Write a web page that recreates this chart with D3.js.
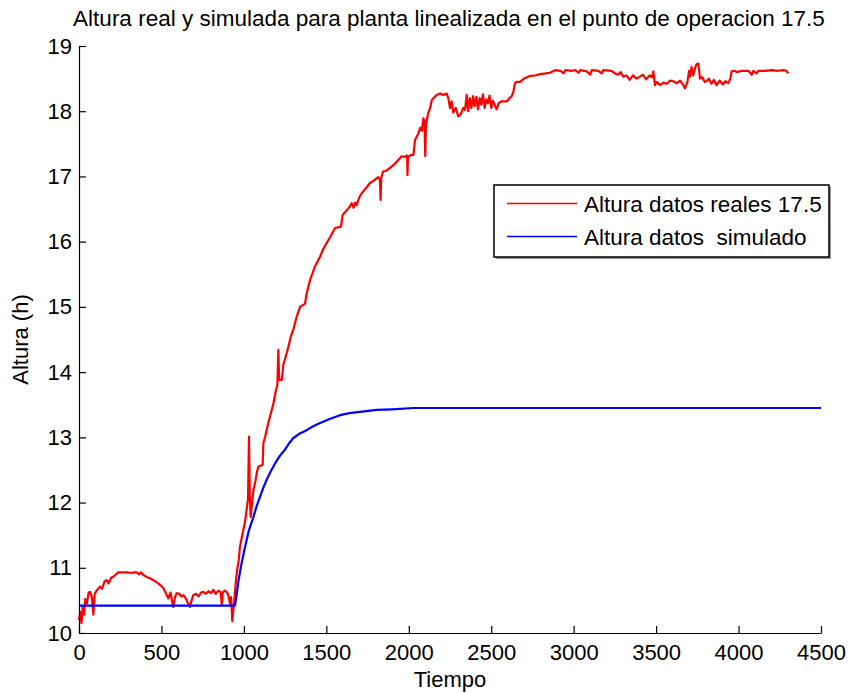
<!DOCTYPE html>
<html>
<head>
<meta charset="utf-8">
<script src="https://cdn.jsdelivr.net/npm/d3@7"></script>
<style>
  html, body { margin: 0; padding: 0; background: #fff; }
  svg { display: block; }
  text { font-family: "Liberation Sans", Arial, Helvetica, sans-serif; fill: #000; }
</style>
</head>
<body>
<svg id="chart" width="848" height="693"></svg>
<script>
// ---- data ----
const titleText = "Altura real y simulada para planta linealizada en el punto de operacion 17.5";
const xLabel = "Tiempo";
const yLabel = "Altura (h)";
const xTicks = [0, 500, 1000, 1500, 2000, 2500, 3000, 3500, 4000, 4500];
const yTicks = [10, 11, 12, 13, 14, 15, 16, 17, 18, 19];
const seriesNames = ["Altura datos reales 17.5", "Altura datos  simulado"];
const seriesColors = ["#ff0000", "#0000ff"];

const realT = [0,8,15,22,30,38,48,58,67,78,87,95,110,127,140,155,168,180,195,208,225,238,260,290,320,335,350,365,375,390,410,430,451,470,490,511,525,542,555,565,572,582,592,610,620,633,650,662,673,683,693,710,725,740,754,770,785,800,815,830,845,858,866,872,884,896,905,916,922,930,936,942,950,958,968,976,990,1007,1017,1025,1031,1036,1041,1050,1058,1070,1080,1088,1114,1118,1130,1148,1165,1179,1195,1203,1209,1213,1215,1230,1239,1255,1270,1285,1300,1320,1341,1371,1380,1401,1431,1462,1480,1502,1525,1553,1589,1599,1620,1640,1654,1665,1675,1684,1700,1714,1740,1765,1790,1815,1825,1829,1833,1845,1860,1886,1910,1935,1957,1975,1990,1992,1995,2015,2028,2038,2058,2070,2080,2088,2095,2100,2104,2118,2130,2139,2150,2169,2190,2210,2230,2240,2250,2260,2270,2285,2300,2315,2330,2341,2351,2360,2370,2380,2390,2400,2410,2420,2430,2440,2450,2460,2470,2480,2490,2500,2510,2520,2533,2545,2560,2594,2610,2624,2635,2644,2655,2675,2700,2735,2770,2796,2830,2857,2887,2920,2940,2950,2990,3010,3030,3040,3080,3100,3110,3150,3170,3180,3230,3250,3271,3285,3301,3320,3340,3360,3380,3402,3420,3440,3460,3475,3483,3493,3504,3523,3545,3565,3585,3604,3625,3645,3660,3675,3690,3700,3706,3715,3725,3736,3745,3756,3762,3766,3780,3795,3806,3820,3835,3850,3867,3885,3905,3920,3938,3950,3958,3975,3990,4020,4060,4080,4090,4110,4120,4160,4200,4240,4270,4290,4302];
const realH = [10.20,10.32,10.15,10.40,10.28,10.52,10.45,10.62,10.63,10.55,10.28,10.60,10.66,10.71,10.68,10.79,10.81,10.76,10.85,10.86,10.90,10.93,10.93,10.93,10.92,10.93,10.93,10.90,10.93,10.89,10.86,10.84,10.81,10.78,10.74,10.69,10.62,10.53,10.62,10.48,10.40,10.55,10.61,10.60,10.56,10.58,10.52,10.45,10.40,10.50,10.58,10.60,10.56,10.62,10.63,10.60,10.64,10.61,10.66,10.60,10.65,10.63,10.44,10.62,10.65,10.63,10.58,10.45,10.55,10.18,10.36,10.50,10.75,10.95,11.10,11.32,11.50,11.71,11.90,12.05,13.01,12.10,11.78,12.00,12.19,12.33,12.48,12.55,12.58,12.91,13.02,13.22,13.38,13.52,13.73,13.80,14.34,13.95,13.88,13.88,14.11,14.25,14.39,14.55,14.65,14.85,15.00,15.05,15.20,15.41,15.62,15.77,15.88,15.98,16.08,16.21,16.23,16.41,16.47,16.53,16.59,16.52,16.60,16.56,16.68,16.74,16.82,16.90,16.94,16.99,16.95,16.64,16.98,17.08,17.08,17.13,17.18,17.25,17.31,17.30,17.32,17.02,17.30,17.33,17.33,17.56,17.66,17.75,17.70,17.89,17.85,17.31,17.80,17.97,18.05,18.17,18.20,18.25,18.27,18.25,18.27,18.20,18.05,18.15,17.98,18.05,17.92,17.95,18.05,18.02,18.25,18.00,18.20,18.05,18.23,18.08,18.22,18.03,18.20,18.10,18.26,18.05,18.18,18.12,18.24,18.05,18.16,18.10,18.03,18.12,18.15,18.15,18.20,18.23,18.30,18.43,18.45,18.45,18.50,18.54,18.55,18.57,18.58,18.59,18.63,18.62,18.58,18.63,18.62,18.63,18.59,18.63,18.61,18.56,18.63,18.62,18.58,18.63,18.62,18.58,18.56,18.60,18.53,18.55,18.48,18.55,18.50,18.53,18.56,18.49,18.55,18.52,18.61,18.40,18.45,18.40,18.44,18.42,18.47,18.46,18.43,18.47,18.42,18.35,18.45,18.62,18.53,18.68,18.55,18.66,18.72,18.73,18.60,18.50,18.52,18.45,18.46,18.50,18.42,18.48,18.40,18.47,18.41,18.46,18.43,18.50,18.61,18.62,18.60,18.62,18.62,18.56,18.62,18.58,18.62,18.62,18.63,18.62,18.63,18.62,18.58];

const simT = [0,946,956,966,976,987,1007,1030,1058,1078,1098,1118,1138,1163,1189,1219,1249,1275,1300,1340,1381,1420,1462,1520,1583,1640,1704,1805,1900,2028,4500];
const simH = [10.42,10.42,10.58,10.78,10.93,11.08,11.32,11.57,11.78,11.95,12.09,12.23,12.35,12.48,12.60,12.72,12.81,12.91,12.99,13.06,13.11,13.17,13.22,13.28,13.34,13.37,13.39,13.42,13.43,13.45,13.45];

// ---- drawing ----
const svg = d3.select("#chart");
const FS = 22;
const FS_TITLE = 22.5;
const x = d3.scaleLinear().domain([0, 4500]).range([79, 821]);
const y = d3.scaleLinear().domain([10, 19]).range([633, 46]);

const series = [
  realT.map((t, i) => [t, realH[i]]),
  simT.map((t, i) => [t, simH[i]])
];
const line = d3.line().x(d => x(d[0])).y(d => y(d[1]));

series.forEach((s, i) => {
  svg.append("path")
    .datum(s)
    .attr("fill", "none")
    .attr("stroke", seriesColors[i])
    .attr("stroke-width", 2.2)
    .attr("stroke-linejoin", "round")
    .attr("d", line);
});

// axes
const xAxis = d3.axisBottom(x).tickValues(xTicks).tickFormat(d3.format("d"))
  .tickSizeInner(-7).tickSizeOuter(0).tickPadding(11);
const yAxis = d3.axisLeft(y).tickValues(yTicks).tickFormat(d3.format("d"))
  .tickSizeInner(-7).tickSizeOuter(0).tickPadding(7);

const gx = svg.append("g").attr("transform", `translate(0,${y(10)})`).call(xAxis);
const gy = svg.append("g").attr("transform", `translate(${x(0)},0)`).call(yAxis);
[gx, gy].forEach(g => {
  g.selectAll("path.domain").attr("stroke", "#000").attr("stroke-width", 1.2);
  g.selectAll(".tick line").attr("stroke", "#000").attr("stroke-width", 1.2);
  g.selectAll(".tick text").attr("font-size", FS)
    .attr("font-family", '"Liberation Sans", Arial, sans-serif').attr("fill", "#000");
});

// title and labels
svg.append("text").attr("x", 449).attr("y", 26).attr("text-anchor", "middle")
  .attr("font-size", FS_TITLE).text(titleText);
svg.append("text").attr("x", 450).attr("y", 687).attr("text-anchor", "middle")
  .attr("font-size", FS).text(xLabel);
svg.append("text").attr("transform", `translate(28,${(y(10) + y(19)) / 2}) rotate(-90)`)
  .attr("text-anchor", "middle").attr("font-size", FS).text(yLabel);

// legend
const lg = svg.append("g");
lg.append("rect").attr("x", 496).attr("y", 187).attr("width", 335).attr("height", 72)
  .attr("fill", "#999");
lg.append("rect").attr("x", 494).attr("y", 185).attr("width", 335).attr("height", 72)
  .attr("fill", "#fff").attr("stroke", "#000").attr("stroke-width", 1.5);
seriesNames.forEach((name, i) => {
  const yy = 203.5 + i * 33;
  lg.append("line").attr("x1", 507).attr("x2", 577).attr("y1", yy).attr("y2", yy)
    .attr("stroke", seriesColors[i]).attr("stroke-width", 1.5);
  lg.append("text").attr("x", 584).attr("y", yy + 8).attr("font-size", FS_TITLE)
    .attr("xml:space", "preserve").style("white-space", "pre").text(name);
});
</script>
</body>
</html>
